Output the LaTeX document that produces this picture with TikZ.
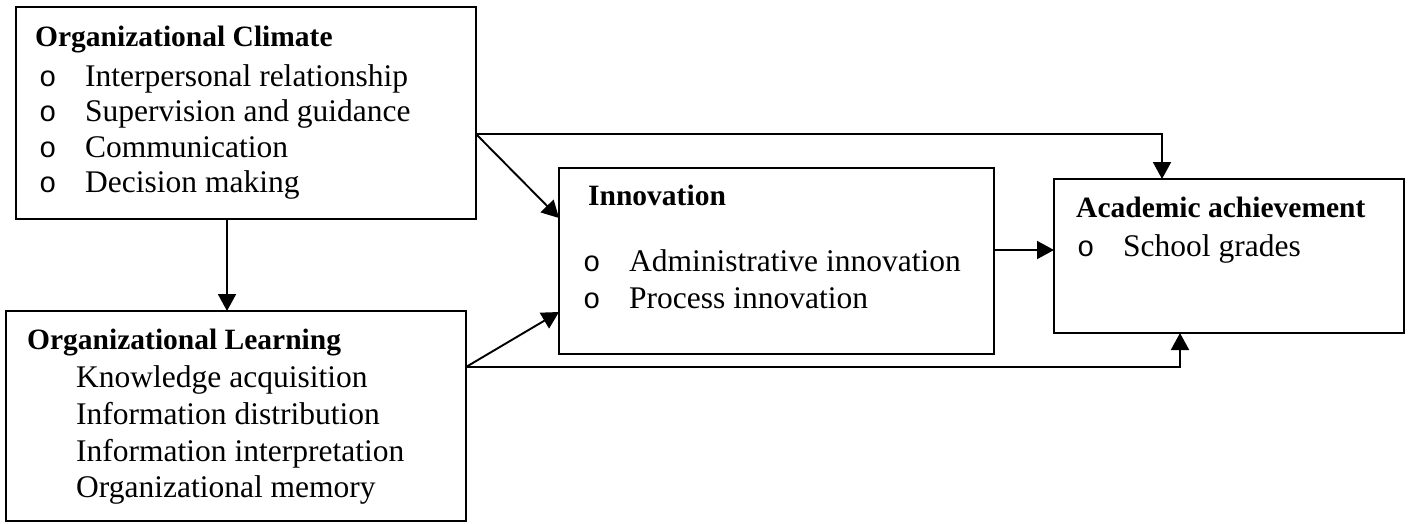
\documentclass[tikz,border=0pt]{standalone}
\usepackage{fontspec}
\setmainfont{Liberation Serif}
\newfontfamily\bulletfont{Liberation Mono}
\usetikzlibrary{arrows.meta}
\tikzset{
  box/.style={draw, line width=2pt, rectangle, inner sep=0pt, outer sep=0pt, anchor=north west},
  ttl/.style={font=\bfseries\fontsize{29.5}{34}\selectfont, anchor=base west, inner sep=0pt},
  itm/.style={font=\fontsize{31.5}{36}\selectfont, anchor=base west, inner sep=0pt},
  bul/.style={font=\bulletfont\fontsize{29}{34}\selectfont, anchor=base west, inner sep=0pt},
  arr/.style={line width=1.9pt, -{Triangle[length=17pt,width=18pt]}}
}
\begin{document}
\begin{tikzpicture}[x=1pt,y=-1pt]
\useasboundingbox (0,0) rectangle (1408,523);
% boxes
\node[box, minimum width=460pt, minimum height=212pt] (b1) at (16,7) {};
\node[box, minimum width=460pt, minimum height=210pt] (b2) at (6,311) {};
\node[box, minimum width=435pt, minimum height=186pt] (b3) at (559,168) {};
\node[box, minimum width=350pt, minimum height=154pt] (b4) at (1054,179) {};
% box 1 text
\node[ttl] (t1) at (35,46) {Organizational Climate};
\node[bul] (o11) at (39,86) {o};
\node[itm] (t11) at (85,86) {Interpersonal relationship};
\node[bul] (o12) at (39,121) {o};
\node[itm] (t12) at (85,121) {Supervision and guidance};
\node[bul] (o13) at (39,157) {o};
\node[itm] (t13) at (85,157) {Communication};
\node[bul] (o14) at (39,192) {o};
\node[itm] (t14) at (85,192) {Decision making};
% box 2 text
\node[ttl] (t2) at (27,349) {Organizational Learning};
\node[itm] (t21) at (76,387) {Knowledge acquisition};
\node[itm] (t22) at (76,424) {Information distribution};
\node[itm] (t23) at (76,461) {Information interpretation};
\node[itm] (t24) at (76,497) {Organizational memory};
% box 3 text
\node[ttl] (t3) at (588,205) {Innovation};
\node[bul] (o31) at (583,271) {o};
\node[itm] (t31) at (629,271) {Administrative innovation};
\node[bul] (o32) at (583,308) {o};
\node[itm] (t32) at (629,308) {Process innovation};
% box 4 text
\node[ttl] (t4) at (1076,217) {Academic achievement};
\node[bul] (o41) at (1077,256) {o};
\node[itm] (t41) at (1123,256) {School grades};
% connectors
\draw[arr] (b1.east |- 0,134) -| (b4.north -| 1162,0);
\draw[arr] (b1.east |- 0,134) -- (b3.west |- 0,218);
\draw[arr] (b1.south -| 227,0) -- (b2.north -| 227,0);
\draw[arr] (b2.east |- 0,367) -- (b3.west |- 0,312);
\draw[arr] (b2.east |- 0,367) -| (b4.south -| 1180,0);
\draw[arr] (b3.east |- 0,250) -- (b4.west |- 0,250);
\end{tikzpicture}
\end{document}
